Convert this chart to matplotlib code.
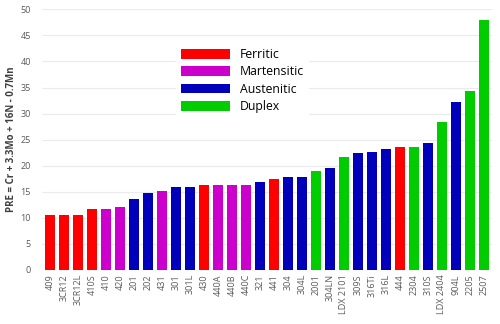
import matplotlib.pyplot as plt
from matplotlib.patches import Patch

grades = ["409", "3CR12", "3CR12L", "410S", "410", "420", "201", "202", "431",
          "301", "301L", "430", "440A", "440B", "440C", "321", "441", "304",
          "304L", "2001", "304LN", "LDX 2101", "309S", "316Ti", "316L", "444",
          "2304", "310S", "LDX 2404", "904L", "2205", "2507"]
pre = [10.5, 10.6, 10.6, 11.6, 11.6, 12.1, 13.6, 14.8, 15.2,
       15.9, 15.9, 16.2, 16.2, 16.2, 16.2, 16.8, 17.5, 17.9,
       17.9, 19.0, 19.6, 21.7, 22.4, 22.7, 23.2, 23.6,
       23.6, 24.3, 28.4, 32.2, 34.4, 48.0]
family = ["F", "F", "F", "F", "M", "M", "A", "A", "M",
          "A", "A", "F", "M", "M", "M", "A", "F", "A",
          "A", "D", "A", "D", "A", "A", "A", "F",
          "D", "A", "D", "A", "D", "D"]

family_names = {"F": "Ferritic", "M": "Martensitic", "A": "Austenitic", "D": "Duplex"}
family_colors = {"F": "#ff0000", "M": "#cc00cc", "A": "#0000bb", "D": "#00cc00"}

plt.rcParams["font.family"] = ["Open Sans", "DejaVu Sans"]

fig = plt.figure(figsize=(5.0, 3.24), dpi=100)
ax = fig.add_axes([0.084, 0.167, 0.9, 0.804])

x = range(len(grades))
ax.bar(x, pre, width=0.7, color=[family_colors[f] for f in family], zorder=2)

ax.set_xlim(-0.6, len(grades) - 0.4)
ax.set_ylim(0, 50)
ax.set_yticks(range(0, 51, 5))
ax.set_xticks(list(x))
ax.set_xticklabels(grades, rotation=90, fontsize=6.5, color="#595959")
ax.tick_params(axis="y", labelsize=6.5, labelcolor="#595959", length=0, pad=8)
ax.tick_params(axis="x", length=0, pad=3)
ax.grid(axis="y", color="#ebebeb", linewidth=0.8, zorder=0)
for s in ax.spines.values():
    s.set_visible(False)

ax.set_ylabel("PRE = Cr + 3.3Mo + 16N - 0.7Mn", fontsize=7, fontweight="bold",
              color="#404040")
ax.yaxis.set_label_coords(-0.056, 0.5)

handles = [Patch(facecolor=family_colors[k], edgecolor="none", label=family_names[k])
           for k in ["F", "M", "A", "D"]]
leg = ax.legend(handles=handles, loc="upper left", bbox_to_anchor=(0.298, 0.87),
                fontsize=8.8, frameon=True, facecolor="white", edgecolor="none",
                framealpha=1, handlelength=4.0, handleheight=0.85,
                labelspacing=0.35, handletextpad=0.8, borderaxespad=0)
leg.set_zorder(3)

fig.savefig("out.png", dpi=100)
